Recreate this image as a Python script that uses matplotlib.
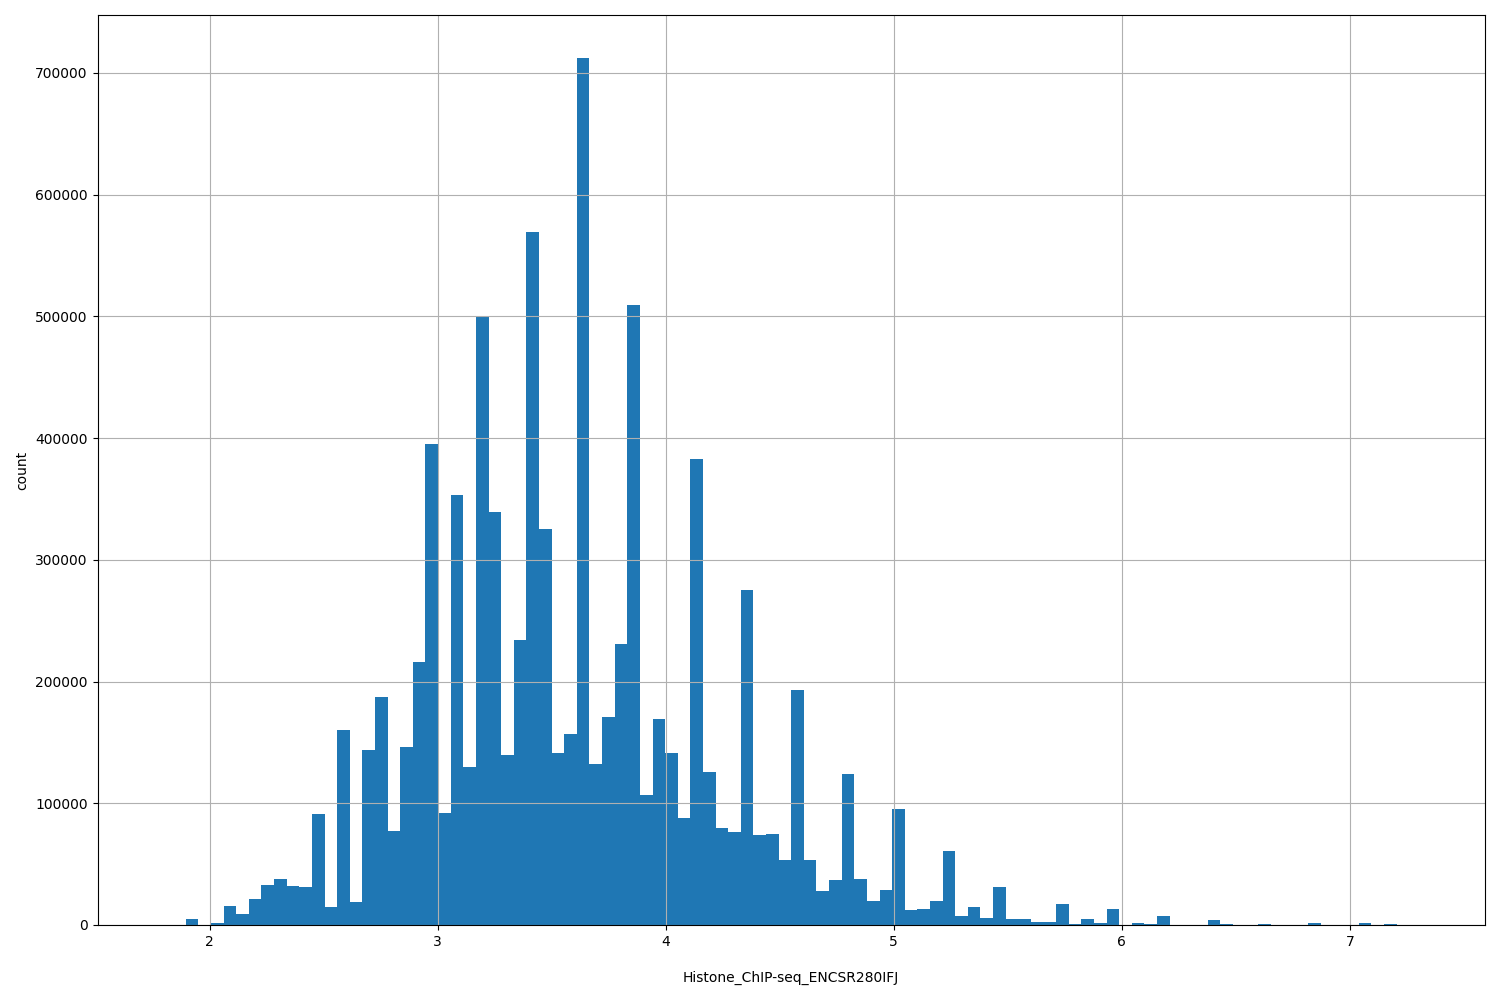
import numpy as np
import matplotlib
matplotlib.use("Agg")
import matplotlib.pyplot as plt

xmin, xmax = 1.785, 7.316
counts = [100, 0, 5000, 0, 2000, 16000, 9000, 21000, 33000, 38000,
          32000, 31000, 91000, 15000, 160000, 19000, 144000, 187000, 77000, 146000,
          216000, 395000, 92000, 353000, 130000, 500000, 339000, 140000, 234000, 569000,
          325000, 141000, 157000, 712000, 132000, 171000, 231000, 509000, 107000, 169000,
          141000, 88000, 383000, 126000, 80000, 76000, 275000, 74000, 75000, 53000,
          193000, 53000, 28000, 37000, 124000, 38000, 20000, 29000, 95000, 12000,
          13000, 20000, 61000, 7000, 15000, 6000, 31000, 5000, 5000, 2500,
          2500, 17000, 500, 5000, 1500, 13000, 0, 1500, 500, 7000,
          0, 0, 0, 4000, 1000, 0, 300, 1000, 0, 0,
          0, 1500, 0, 0, 0, 1500, 0, 800, 0, 100]
edges = np.linspace(xmin, xmax, len(counts) + 1)

fig, ax = plt.subplots(figsize=(15, 10), dpi=100)
ax.bar(edges[:-1], counts, width=np.diff(edges), align='edge', color='#1f77b4')
ax.set_xlim(xmin - 0.05 * (xmax - xmin), xmax + 0.05 * (xmax - xmin))
ax.grid(True)
ax.set_xlabel("Histone_ChIP-seq_ENCSR280IFJ", labelpad=16)
ax.set_ylabel("count")
plt.subplots_adjust(left=0.065, right=0.99, top=0.985, bottom=0.075)
fig.savefig("out.png")
